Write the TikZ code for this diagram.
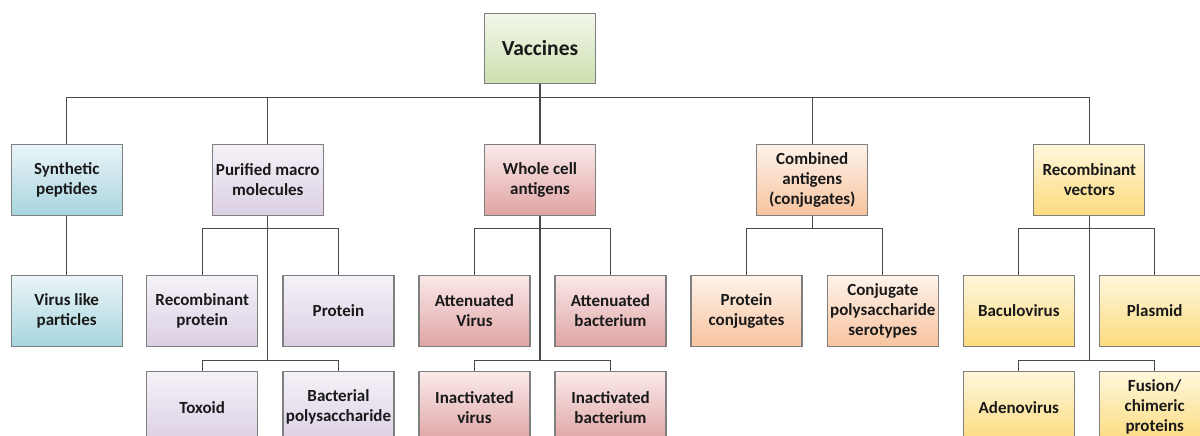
\documentclass[tikz,border=0pt]{standalone}
\usepackage{fontspec}
\setmainfont{Carlito}
\begin{document}
\begin{tikzpicture}[x=1pt,y=-1pt,
  box/.style={draw=boxline, line width=1.3pt, rectangle, align=center,
    minimum width=111pt, minimum height=71pt, inner sep=2pt,
    font=\fontsize{17}{20}\selectfont\bfseries, text=black!90},
  green/.style={box, top color=vgreenT, bottom color=vgreenB},
  blue/.style={box, top color=vblueT, bottom color=vblueB},
  purple/.style={box, top color=vpurpT, bottom color=vpurpB},
  red/.style={box, top color=vredT, bottom color=vredB},
  orange/.style={box, top color=vorgT, bottom color=vorgB},
  yellow/.style={box, top color=vyelT, bottom color=vyelB},
  link/.style={draw=linkgray, line width=1.2pt}]
\definecolor{boxline}{HTML}{7F7F7F}
\definecolor{linkgray}{HTML}{4A4A4A}
\definecolor{vgreenT}{HTML}{F2F7EA}
\definecolor{vgreenB}{HTML}{CDE0B0}
\definecolor{vblueT}{HTML}{EAF5F8}
\definecolor{vblueB}{HTML}{A8D5DF}
\definecolor{vpurpT}{HTML}{F6F2F8}
\definecolor{vpurpB}{HTML}{DACFE3}
\definecolor{vredT}{HTML}{FAEAEA}
\definecolor{vredB}{HTML}{E0A3A3}
\definecolor{vorgT}{HTML}{FEF3EA}
\definecolor{vorgB}{HTML}{F7C39E}
\definecolor{vyelT}{HTML}{FFF7DC}
\definecolor{vyelB}{HTML}{FCDB7E}

\useasboundingbox (0,0) rectangle (1200,436);
\clip (0,0) rectangle (1200,436);

% root
\node[green, minimum height=70pt, font=\fontsize{21.5}{24}\selectfont\bfseries] (vac) at (540,48.2) {Vaccines};

% first level
\node[blue]   (syn) at (66.7,179.7)   {Synthetic\\peptides};
\node[purple] (pur) at (267.8,179.7)  {Purified macro\\molecules};
\node[red]    (who) at (540,179.7)    {Whole cell\\antigens};
\node[orange] (com) at (812.2,179.7)  {Combined\\antigens\\(conjugates)};
\node[yellow] (rec) at (1089.3,179.7) {Recombinant\\vectors};

% second level
\node[blue]   (vlp)  at (66.7,311)   {Virus like\\particles};
\node[purple] (rprot) at (202.2,311) {Recombinant\\protein};
\node[purple] (prot) at (338.5,311)  {Protein};
\node[red]    (attv) at (474.5,311)  {Attenuated\\Virus};
\node[red]    (attb) at (610.5,311)  {Attenuated\\bacterium};
\node[orange] (pconj) at (746.5,311) {Protein\\conjugates};
\node[orange] (cpoly) at (882.8,311) {Conjugate\\polysaccharide\\serotypes};
\node[yellow] (bac)  at (1018.8,311) {Baculovirus};
\node[yellow] (pla)  at (1154.7,311) {Plasmid};

% third level
\node[purple] (tox)  at (202.2,407.2) {Toxoid};
\node[purple] (bpol) at (338.5,407.2) {Bacterial\\polysaccharide};
\node[red]    (inv)  at (474.5,407.2) {Inactivated\\virus};
\node[red]    (inb)  at (610.5,407.2) {Inactivated\\bacterium};
\node[yellow] (ade)  at (1018.8,407.2) {Adenovirus};
\node[yellow] (fus)  at (1154.7,407.2) {Fusion/\\chimeric\\proteins};

% root to first level
\foreach \c in {syn,pur,who,com,rec}
  \draw[link] (vac.south) -- ++(0,13.4) -| (\c.north);

% first to second level
\draw[link] (syn.south) -- (vlp.north);
\foreach \p/\c in {pur/rprot,pur/prot,who/attv,who/attb,com/pconj,com/cpoly,rec/bac,rec/pla}
  \draw[link] (\p.south) -- ++(0,12.3) -| (\c.north);

% trunks down to the third level
\foreach \p/\c in {pur/tox,pur/bpol,who/inv,who/inb,rec/ade,rec/fus}
  \draw[link] (\p.south) -- ++(0,144.3) -| (\c.north);
\end{tikzpicture}
\end{document}
